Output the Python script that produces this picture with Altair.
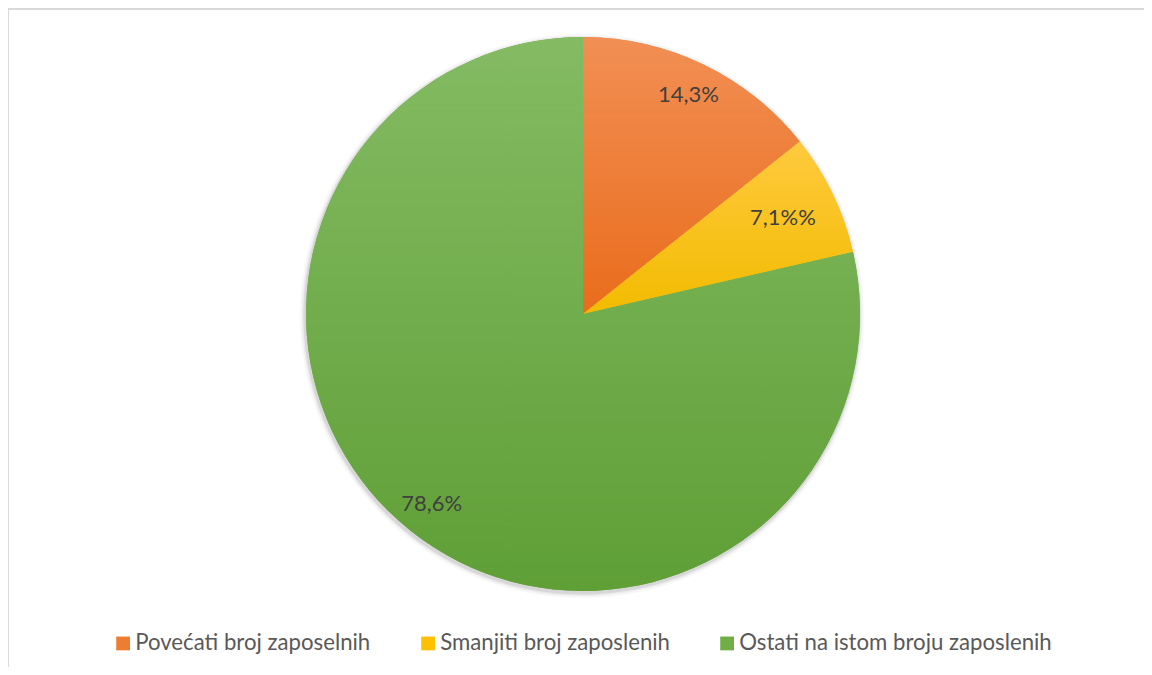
import altair as alt
import pandas as pd

categories = ["Povećati broj zaposelnih", "Smanjiti broj zaposlenih", "Ostati na istom broju zaposlenih"]
values = [14.3, 7.1, 78.6]
labels = ["14,3%", "7,1%%", "78,6%"]
order = [0, 1, 2]

flat_colors = ["#ED7D31", "#FFC000", "#70AD47"]
grad_colors = [("#F28F54", "#E96C1C"), ("#FFCA3E", "#F2BB00"), ("#84BB63", "#5F9F36")]

df = pd.DataFrame({"cat": categories, "value": values, "label": labels, "idx": order})

CX, CY, R = 575, 306, 277
W, H = 1136, 659

base = alt.Chart(df).transform_stack(
    stack="value", groupby=[], as_=["v0", "v1"], sort=[alt.SortField("idx", order="ascending")]
).transform_calculate(mid="(datum.v0 + datum.v1) / 2")

tscale = alt.Scale(domain=[0, 100])

# soft shadow rings
shadows = [
    base.mark_arc(x=CX - 1, y=CY + 2, outerRadius=R + rr, fill="#000000", opacity=op).encode(
        theta=alt.Theta("v0:Q", scale=tscale), theta2="v1:Q"
    )
    for rr, op in [(5, 0.03), (3, 0.05), (1.5, 0.08)]
]

flat = base.mark_arc(x=CX, y=CY, outerRadius=R).encode(
    theta=alt.Theta("v0:Q", scale=tscale),
    theta2="v1:Q",
    color=alt.Color(
        "cat:N",
        scale=alt.Scale(domain=categories, range=flat_colors),
        sort=categories,
        legend=alt.Legend(
            title=None,
            orient="none",
            legendX=104,
            legendY=624,
            direction="horizontal",
            symbolType="square",
            symbolSize=190,
            symbolStrokeWidth=0,
            labelFont="Lato",
            labelFontSize=22.2,
            labelColor="#595959",
            labelOffset=1,
            columnPadding=46,
            labelLimit=500,
        ),
    ),
)

grads = []
for c, (top, bot) in zip(categories, grad_colors):
    g = alt.LinearGradient(
        gradient="linear",
        stops=[alt.GradientStop(color=top, offset=0), alt.GradientStop(color=bot, offset=1)],
        x1=0, x2=0, y1=0, y2=1,
    )
    grads.append(
        base.transform_filter(alt.datum.cat == c)
        .mark_arc(x=CX, y=CY, outerRadius=R, fill=g)
        .encode(theta=alt.Theta("v0:Q", scale=tscale), theta2="v1:Q")
    )

text_main = base.transform_filter(alt.datum.idx != 1).mark_text(
    x=CX, y=CY, radius=243, font="Lato", fontSize=22, color="#404040", align="center", baseline="middle"
).encode(theta=alt.Theta("mid:Q", scale=tscale), text="label:N")
text_small = base.transform_filter(alt.datum.idx == 1).mark_text(
    x=CX, y=CY, radius=222, font="Lato", fontSize=22, color="#404040", align="center", baseline="middle"
).encode(theta=alt.Theta("mid:Q", scale=tscale), text="label:N")

border = alt.Chart(pd.DataFrame({"a": [0]})).mark_rule(color="#d9d9d9", strokeWidth=2).encode(
    x=alt.value(0), x2=alt.value(W), y=alt.value(1)
)
border2 = alt.Chart(pd.DataFrame({"a": [0]})).mark_rule(color="#d9d9d9", strokeWidth=2).encode(
    x=alt.value(0), y=alt.value(0), y2=alt.value(H)
)

chart = alt.layer(*shadows, flat, *grads, text_main, text_small, border, border2).properties(
    width=W, height=H, autosize=alt.AutoSizeParams(type="none"), padding=0
).configure_view(strokeOpacity=0).configure(background="white")

chart.save("out.html", embed_options={"renderer": "svg", "actions": False})
